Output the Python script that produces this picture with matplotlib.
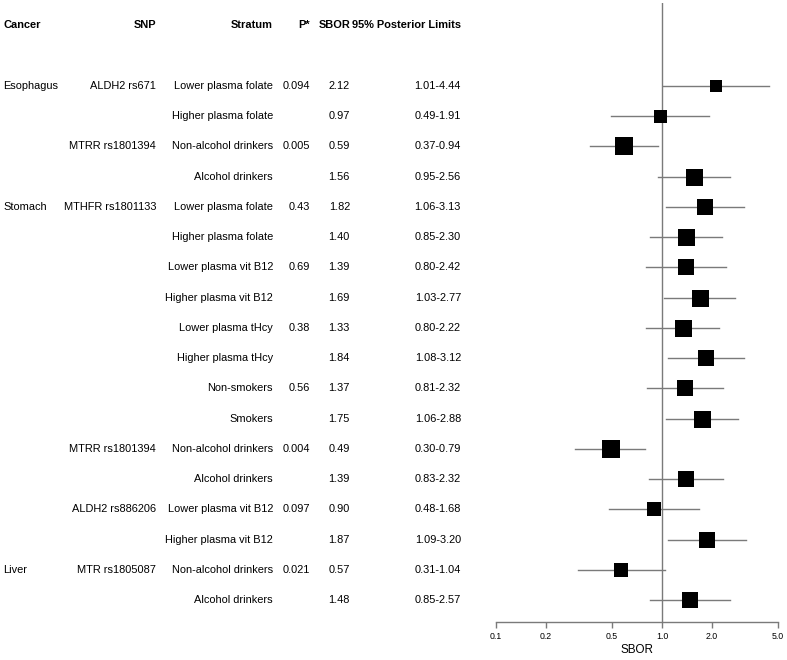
import matplotlib
matplotlib.use("Agg")
import matplotlib.pyplot as plt
from matplotlib.transforms import blended_transform_factory
import numpy as np

plt.rcParams['font.family'] = ['Liberation Sans', 'DejaVu Sans']

cancer = ["Esophagus", "", "", "", "Stomach", "", "", "", "", "", "", "", "", "", "", "", "Liver", ""]
snp = ["ALDH2 rs671", "", "MTRR rs1801394", "", "MTHFR rs1801133", "", "", "", "", "", "", "",
       "MTRR rs1801394", "", "ALDH2 rs886206", "", "MTR rs1805087", ""]
stratum = ["Lower plasma folate", "Higher plasma folate", "Non-alcohol drinkers", "Alcohol drinkers",
           "Lower plasma folate", "Higher plasma folate", "Lower plasma vit B12", "Higher plasma vit B12",
           "Lower plasma tHcy", "Higher plasma tHcy", "Non-smokers", "Smokers",
           "Non-alcohol drinkers", "Alcohol drinkers", "Lower plasma vit B12", "Higher plasma vit B12",
           "Non-alcohol drinkers", "Alcohol drinkers"]
pvals = ["0.094", "", "0.005", "", "0.43", "", "0.69", "", "0.38", "", "0.56", "",
         "0.004", "", "0.097", "", "0.021", ""]
sbor = [2.12, 0.97, 0.59, 1.56, 1.82, 1.40, 1.39, 1.69, 1.33, 1.84, 1.37, 1.75,
        0.49, 1.39, 0.90, 1.87, 0.57, 1.48]
lower = [1.01, 0.49, 0.37, 0.95, 1.06, 0.85, 0.80, 1.03, 0.80, 1.08, 0.81, 1.06,
         0.30, 0.83, 0.48, 1.09, 0.31, 0.85]
upper = [4.44, 1.91, 0.94, 2.56, 3.13, 2.30, 2.42, 2.77, 2.22, 3.12, 2.32, 2.88,
         0.79, 2.32, 1.68, 3.20, 1.04, 2.57]
# relative box sizes (study weights), in pixels
weights = [12, 13, 18, 17, 16, 17, 15.5, 17, 17, 16.5, 16, 17, 18, 16.5, 14, 15.5, 14.5, 15.5]
xticks = [0.1, 0.2, 0.5, 1.0, 2.0, 5.0]
xticklabels = ["0.1", "0.2", "0.5", "1.0", "2.0", "5.0"]
headers = ["Cancer", "SNP", "Stratum", "P*", "SBOR", "95% Posterior Limits"]

W, H, DPI = 787, 660, 100
fig = plt.figure(figsize=(W / DPI, H / DPI), dpi=DPI)

n = len(sbor)
row0_px, rowN_px, bottom_px, top_px = 86, 600, 622, 3
step = (rowN_px - row0_px) / (n - 1)
ylo = (n - 1) + (bottom_px - rowN_px) / step
yhi = -(row0_px - top_px) / step

left_px, right_px = 496, 778
ax = fig.add_axes([left_px / W, 1 - bottom_px / H, (right_px - left_px) / W, (bottom_px - top_px) / H])
ax.set_xscale('log')
ax.set_xlim(0.1, 5.0)
ax.set_ylim(ylo, yhi)

gray = '#7a7a7a'
ys = np.arange(n)
for i in range(n):
    ax.plot([lower[i], upper[i]], [ys[i], ys[i]], color=gray, lw=1.0, zorder=2)
    ax.plot(sbor[i], ys[i], marker='s', color='black', markersize=weights[i] * 72 / DPI,
            markeredgewidth=0, zorder=3)
ax.axvline(1.0, color=gray, lw=1.0, zorder=1)

for s in ['top', 'right', 'left']:
    ax.spines[s].set_visible(False)
ax.spines['bottom'].set_color(gray)
ax.spines['bottom'].set_linewidth(1.0)
ax.set_yticks([])
ax.set_xticks(xticks)
ax.set_xticklabels(xticklabels, fontsize=6.3)
ax.xaxis.set_minor_locator(matplotlib.ticker.NullLocator())
ax.tick_params(axis='x', length=4, color=gray, width=1.0, pad=3.5)
ax.set_xlabel("SBOR", fontsize=8.4, labelpad=2)

tr = blended_transform_factory(fig.transFigure, ax.transData)
fs = 7.9
cols = [(3, 'left'), (156, 'right'), (273, 'right'), (310, 'right'), (350, 'right'), (461, 'right')]
hdr_y = (25 - row0_px) / step
for (xp, ha), h in zip(cols, headers):
    ax.text(xp / W, hdr_y, h, transform=tr, ha=ha, va='center', fontsize=fs,
            fontweight='bold', clip_on=False)

for i in range(n):
    vals = [cancer[i], snp[i], stratum[i], pvals[i], f"{sbor[i]:.2f}",
            f"{lower[i]:.2f}-{upper[i]:.2f}"]
    for (xp, ha), v in zip(cols, vals):
        if v:
            ax.text(xp / W, ys[i], v, transform=tr, ha=ha, va='center', fontsize=fs,
                    clip_on=False)

fig.savefig("out.png", dpi=DPI)
